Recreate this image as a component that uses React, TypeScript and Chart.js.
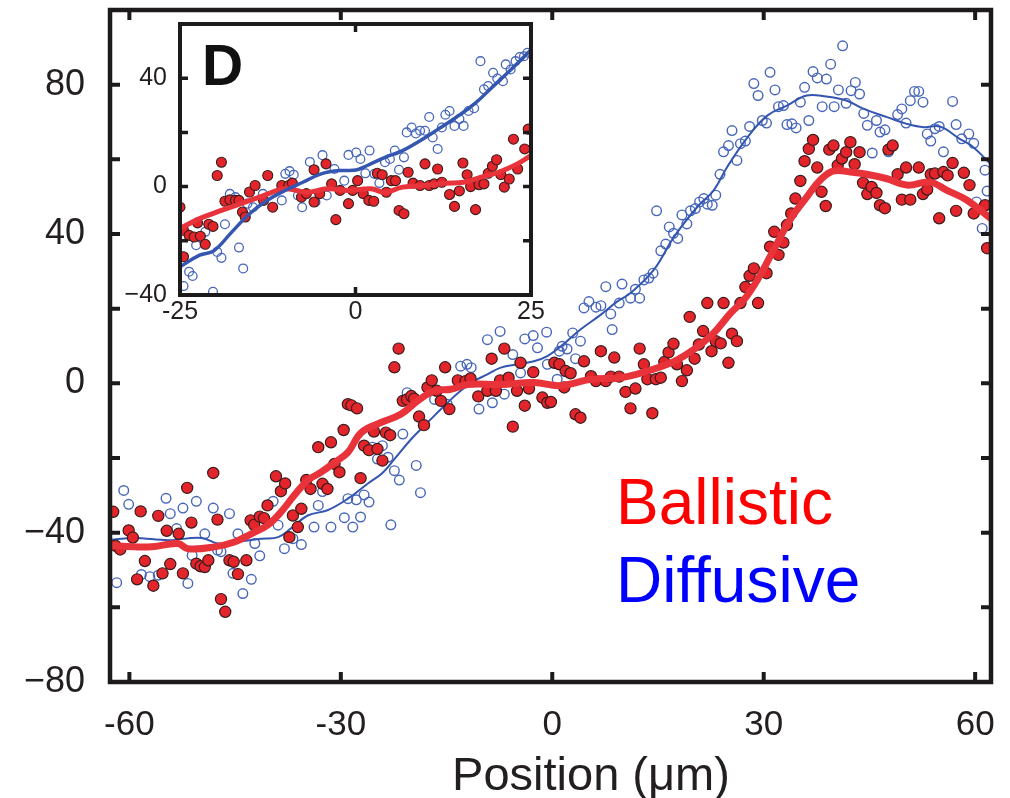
import React, { useEffect, useRef } from 'react';
import { Chart, registerables } from 'chart.js';

Chart.register(...registerables);

const FONT = "'Liberation Sans', Arial, Helvetica, sans-serif";

// ---------- main panel data ----------
const mainXTickLabels = [-60, -30, 0, 30, 60];
const mainYTickLabels = [-80, -40, 0, 40, 80];
const mainYTickMarks = [-60, -40, -20, 0, 20, 40, 60, 80];

const mainBallisticPoints: number[][] = [
  [-62.3, -34.4], [-62.0, -43.5], [-61.3, -44.5], [-60.1, -39.4], [-59.5, -41.3], [-58.4, -34.3], [-57.8, -47.6],
  [-58.9, -52.5], [-56.6, -54.2], [-55.9, -35.5], [-55.3, -50.9], [-54.7, -39.5], [-54.2, -48.4], [-53.0, -40.3],
  [-52.4, -50.9], [-51.8, -28.0], [-51.2, -37.3], [-50.5, -48.3], [-49.9, -49.0], [-49.3, -49.2], [-48.8, -47.4],
  [-48.1, -24.0], [-47.5, -36.5], [-47.0, -57.8], [-46.4, -61.2], [-45.8, -47.4], [-45.2, -47.8], [-44.6, -51.1],
  [-43.4, -47.4], [-42.8, -36.7], [-42.3, -37.9], [-41.5, -35.7], [-40.9, -36.1], [-40.4, -32.7], [-39.2, -24.9],
  [-38.5, -28.9], [-37.9, -26.8], [-37.3, -41.2], [-36.8, -35.4], [-36.1, -38.5], [-35.6, -33.6], [-34.9, -25.9],
  [-34.3, -28.3], [-33.2, -17.1], [-32.6, -26.9], [-31.9, -28.3], [-31.4, -15.8], [-30.9, -21.6], [-30.2, -23.8],
  [-29.6, -12.5], [-29.0, -5.6], [-28.5, -5.9], [-27.7, -6.7], [-27.2, -25.4], [-26.7, -16.7], [-26.0, -17.9],
  [-25.3, -12.9], [-24.8, -17.6], [-24.1, -20.7], [-23.6, -13.2], [-23.0, -13.9], [-22.4, 4.3], [-21.8, 9.3],
  [-21.2, -4.7], [-20.6, -4.3], [-20.0, -3.4], [-19.6, -4.1], [-18.9, -8.9], [-18.2, -11.2], [-17.7, -1.1],
  [-17.1, 0.8], [-16.4, -2.0], [-15.8, -4.7], [-15.2, 4.3], [-14.6, -6.9], [-13.4, 0.8], [-12.3, 0.6],
  [-11.6, 1.3], [-10.5, -3.5], [-9.2, -2.0], [-8.6, 6.6], [-8.0, -2.0], [-7.4, 0.8], [-6.8, 9.3], [-6.2, 1.5],
  [-5.6, -11.6], [-5.0, -2.0], [-4.5, 5.5], [-3.9, -6.0], [-3.3, -1.4], [-2.7, 3.0], [-1.4, -3.8], [-0.7, -5.2],
  [-0.2, -5.0], [0.3, 5.5], [1.0, 5.1], [1.9, 3.3], [2.6, 2.7], [1.7, -1.1], [3.3, -8.3], [4.0, -9.2],
  [4.5, 5.9], [5.5, 1.9], [6.2, 0.6], [6.9, 8.6], [7.6, 0.6], [8.3, 1.8], [8.8, 6.9], [9.5, 1.8], [10.4, -2.3],
  [11.1, -6.7], [11.8, -1.4], [12.4, 9.3], [13.0, 5.1], [13.5, 1.1], [14.2, -8.0], [14.7, 1.1], [15.4, 1.5],
  [15.9, 5.7], [16.5, 8.3], [17.2, 10.6], [17.7, 5.1], [18.4, 0.6], [19.1, 3.5], [19.5, 17.8], [20.2, 6.6],
  [20.8, 10.4], [21.4, 14.0], [22.0, 21.5], [22.6, 8.6], [23.2, 11.3], [23.9, 10.7], [24.3, 21.5], [25.0, 5.5],
  [25.5, 13.3], [26.2, 11.3], [26.7, 21.5], [27.4, 25.8], [28.0, 28.8], [28.6, 30.8], [29.2, 21.5], [30.4, 29.5],
  [30.9, 36.6], [31.5, 40.6], [32.1, 34.4], [32.8, 37.7], [33.3, 42.4], [33.9, 45.5], [34.5, 49.5], [35.2, 54.2],
  [35.8, 59.5], [36.4, 62.8], [37.0, 65.2], [37.6, 57.8], [38.2, 51.3], [38.8, 47.5], [39.3, 62.6], [39.9, 63.7],
  [40.5, 58.4], [41.1, 60.2], [41.7, 61.9], [42.3, 64.6], [42.9, 58.7], [43.6, 61.9], [44.1, 53.7], [44.7, 50.7],
  [45.3, 52.6], [46.0, 51.0], [46.5, 47.7], [47.2, 46.9], [47.7, 62.6], [48.3, 63.7], [49.0, 56.0], [49.6, 49.2],
  [50.2, 57.8], [50.8, 49.2], [52.0, 57.8], [52.6, 50.7], [53.2, 51.9], [53.7, 56.0], [54.3, 56.2], [54.9, 44.2],
  [55.5, 56.6], [56.1, 55.7], [56.8, 59.0], [57.3, 46.2], [58.4, 56.4], [59.2, 53.1], [59.8, 45.5], [61.4, 47.7],
  [61.7, 36.2],
];

const mainDiffusivePoints: number[][] = [
  [-61.8, -53.4], [-60.8, -28.7], [-60.1, -32.4], [-58.3, -51.2], [-57.1, -51.8], [-55.9, -51.4], [-54.8, -30.8],
  [-54.2, -34.9], [-53.3, -38.9], [-52.4, -33.4], [-51.7, -53.6], [-51.1, -46.1], [-50.5, -31.6], [-49.3, -40.3],
  [-48.1, -33.4], [-47.5, -44.7], [-47.0, -45.1], [-45.8, -34.9], [-45.3, -50.9], [-44.6, -40.3], [-43.9, -56.3],
  [-42.7, -52.5], [-42.2, -42.9], [-41.5, -46.2], [-39.6, -31.6], [-38.9, -38.0], [-38.0, -44.3], [-36.8, -41.6],
  [-35.6, -43.2], [-33.8, -38.5], [-33.2, -32.7], [-32.6, -29.0], [-31.4, -38.5], [-29.5, -36.0], [-29.0, -30.9],
  [-28.3, -38.5], [-27.8, -31.2], [-27.2, -35.8], [-26.7, -29.9], [-26.0, -31.8], [-25.5, -17.1], [-24.8, -20.3],
  [-24.1, -16.7], [-23.3, -19.8], [-22.9, -37.9], [-22.4, -23.4], [-21.7, -25.9], [-21.2, -13.6], [-20.6, -2.5],
  [-19.3, -22.0], [-18.7, -29.3], [-16.7, -4.3], [-14.9, -5.6], [-13.0, 4.6], [-12.1, 5.1], [-11.5, 4.2],
  [-10.4, -6.9], [-9.2, 11.7], [-8.5, -5.2], [-7.4, 13.9], [-6.8, -2.9], [-5.6, 7.7], [-4.5, 2.8], [-3.9, 11.9],
  [-2.7, 12.8], [-2.1, 9.5], [-0.8, 13.7], [-0.7, 5.1], [0.7, 1.1], [1.0, 8.6], [1.4, 9.9], [2.1, 9.2],
  [2.9, 13.5], [3.3, 6.6], [4.0, 11.3], [8.5, 14.4], [4.5, 20.2], [5.2, 21.9], [6.2, 20.4], [6.9, 20.8],
  [7.6, 25.9], [8.3, 18.6], [9.5, 21.5], [9.9, 26.6], [11.1, 22.8], [11.8, 25.2], [12.4, 22.8], [13.0, 27.7],
  [13.7, 28.2], [14.3, 29.5], [14.8, 46.2], [15.4, 35.5], [16.1, 37.3], [16.6, 41.9], [17.2, 40.2], [17.8, 38.8],
  [18.4, 45.1], [19.1, 42.7], [19.6, 46.2], [20.3, 46.8], [20.9, 48.6], [21.5, 49.5], [22.0, 48.0], [22.7, 47.7],
  [23.2, 50.4], [23.8, 56.0], [24.3, 62.0], [25.0, 63.7], [25.5, 67.7], [26.2, 59.7], [26.7, 64.2], [27.4, 64.9],
  [28.0, 68.8], [28.6, 80.3], [29.2, 77.1], [29.8, 70.4], [30.4, 69.7], [30.9, 83.3], [31.6, 78.6], [32.1, 74.1],
  [32.8, 74.4], [33.3, 69.3], [34.0, 69.5], [34.6, 68.4], [35.2, 75.3], [35.8, 79.3], [36.4, 70.4], [37.0, 83.5],
  [37.6, 81.8], [38.3, 74.1], [38.9, 81.5], [39.5, 85.5], [40.0, 74.1], [40.6, 78.6], [41.2, 90.4], [41.7, 75.0],
  [42.4, 78.4], [43.0, 80.6], [43.6, 77.5], [44.2, 72.3], [44.7, 69.1], [45.4, 61.7], [46.0, 70.4], [46.5, 67.3],
  [47.2, 67.9], [47.7, 62.0], [49.0, 72.0], [49.6, 73.5], [50.2, 69.7], [50.8, 75.7], [51.4, 78.2], [52.0, 78.2],
  [52.6, 75.3], [53.2, 66.8], [53.7, 64.9], [54.3, 68.2], [54.9, 68.8], [55.5, 62.0], [56.8, 75.5], [57.3, 69.3],
  [58.1, 65.5], [59.1, 66.8], [59.8, 64.3], [61.4, 57.1], [61.7, 51.5], [61.0, 41.5], [60.2, 48.6],
];

const mainBallisticFit: number[][] = [
  [-62.8, -43.4], [-59.3, -43.8], [-56.9, -43.8], [-53.1, -42.9], [-51.7, -44.3], [-47.9, -43.8], [-45.1, -42.5],
  [-42.7, -40.3], [-40.4, -38.0], [-38.5, -34.5], [-36.6, -30.0], [-34.7, -26.0], [-32.8, -23.8], [-30.9, -21.2],
  [-29.0, -18.5], [-27.1, -13.2], [-24.3, -10.5], [-21.5, -8.3], [-19.1, -4.7], [-16.7, -2.0], [-14.4, -1.6],
  [-12.0, -0.3], [-7.3, -0.3], [-2.6, 0.2], [1.2, -0.6], [5.5, 1.1], [9.7, 1.5], [13.5, 3.3], [17.3, 5.9],
  [20.1, 9.1], [22.9, 13.5], [25.3, 18.8], [27.2, 22.4], [29.1, 27.7], [31.4, 35.7], [33.7, 43.7], [36.1, 49.9],
  [38.0, 54.4], [39.9, 56.9], [42.3, 56.6], [44.6, 56.0], [47.5, 54.8], [50.3, 53.1], [53.6, 53.9], [56.0, 51.7],
  [58.8, 49.1], [62.3, 44.0],
];

const mainDiffusiveFit: number[][] = [
  [-62.8, -42.0], [-59.3, -41.4], [-54.5, -42.0], [-49.8, -41.4], [-47.4, -42.9], [-44.1, -42.3], [-41.3, -41.6],
  [-38.9, -41.2], [-37.1, -38.9], [-34.7, -35.4], [-31.9, -34.0], [-29.0, -30.9], [-26.2, -26.9], [-24.1, -24.0],
  [-22.4, -20.3], [-20.0, -14.9], [-17.7, -10.5], [-15.3, -6.0], [-13.0, -2.0], [-11.1, 0.6], [-9.2, 2.4],
  [-7.3, 4.2], [-4.9, 5.1], [-2.6, 5.9], [-0.7, 7.3], [1.2, 9.9], [4.0, 14.4], [6.9, 18.4], [9.2, 21.9],
  [11.1, 24.2], [14.4, 30.4], [17.3, 39.3], [20.6, 47.3], [22.9, 51.7], [24.8, 57.9], [27.7, 65.9], [30.5, 71.7],
  [33.3, 74.4], [36.1, 77.1], [38.9, 76.8], [41.8, 75.7], [44.2, 73.5], [47.5, 71.3], [50.3, 69.5], [52.7, 68.6],
  [55.0, 68.8], [57.8, 65.5], [59.7, 63.3], [62.3, 58.5],
];

// ---------- inset (panel D) data ----------
const insetXTickLabels = [-25, 0, 25];
const insetYTickLabels = [-40, 0, 40];
const insetYTickMarks = [-20, 0, 20, 40];

const insetBallisticPoints: number[][] = [
  [-25.0, -7.6], [-24.5, -16.1], [-24.5, -25.9], [-23.7, -18.0], [-23.0, -18.6], [-22.5, -13.4], [-22.1, -18.3],
  [-21.4, -21.3], [-20.9, -13.9], [-20.3, -14.7], [-19.7, 4.1], [-19.1, 9.0], [-18.6, -5.4], [-17.9, -4.9],
  [-17.1, -5.1], [-16.6, -5.1], [-16.1, -9.4], [-15.7, -11.2], [-15.1, -2.0], [-14.3, 0.4], [-13.1, -5.1],
  [-12.5, 4.1], [-11.8, -7.6], [-10.5, 0.4], [-9.5, 0.4], [-9.0, 1.3], [-7.7, -3.9], [-7.0, -2.6], [-5.9, 6.2],
  [-5.9, -5.7], [-5.1, -2.6], [-4.2, 8.4], [-3.4, 1.0], [-2.8, -12.2], [-2.2, -1.4], [-1.0, -6.3], [-0.4, -1.4],
  [0.3, 2.2], [1.1, -2.6], [1.9, -5.1], [2.6, -5.4], [3.1, 4.9], [3.8, 4.4], [4.4, -2.1], [5.1, 2.2], [5.7, 2.2],
  [6.2, -8.8], [6.9, -10.0], [7.5, 5.3], [8.2, 1.3], [9.2, 0.4], [9.9, 8.4], [10.5, 0.4], [11.2, 1.0], [11.7, 6.5],
  [12.3, 1.6], [13.4, -2.9], [14.1, -7.3], [14.8, -1.6], [15.3, 8.7], [15.9, 4.4], [16.4, 0.0], [17.1, -8.5],
  [17.6, 0.7], [18.3, 1.0], [18.9, 4.9], [19.5, 7.5], [20.1, 9.9], [20.7, 4.4], [21.2, -0.2], [21.9, 2.8],
  [22.5, 17.5], [23.1, 6.5], [24.1, 13.9], [24.6, 21.2],
];

const insetDiffusivePoints: number[][] = [
  [-24.5, -36.7], [-23.7, -31.4], [-23.2, -33.0], [-20.3, -38.8], [-22.7, -21.6], [-21.4, -16.7], [-19.7, -24.1],
  [-19.1, -26.3], [-18.6, -13.9], [-17.9, -2.7], [-17.1, -3.9], [-16.6, -22.5], [-16.0, -30.2], [-15.4, -6.3],
  [-14.6, -7.6], [-13.2, -2.7], [-10.5, -5.1], [-10.0, 4.7], [-9.4, 5.7], [-8.8, 4.4], [-8.2, -3.3], [-7.6, -7.6],
  [-6.5, 9.1], [-5.7, -5.7], [-4.7, 11.6], [-4.1, -3.3], [-3.0, 6.5], [-1.6, 2.2], [-1.0, 11.7], [0.1, 12.6],
  [0.7, 10.2], [1.4, 4.9], [2.0, 13.3], [2.7, 4.7], [3.4, 1.3], [4.2, 9.0], [4.9, 10.2], [5.6, 13.3], [6.2, 6.2],
  [6.9, 10.8], [7.3, 20.0], [8.0, 21.8], [8.6, 19.6], [9.2, 20.6], [9.9, 20.6], [10.5, 25.7], [11.0, 18.1],
  [11.7, 13.9], [12.3, 21.8], [12.8, 26.5], [13.4, 27.9], [14.1, 22.4], [14.8, 24.9], [15.4, 22.4], [16.1, 27.9],
  [16.9, 28.9], [17.8, 46.3], [18.3, 35.9], [18.9, 37.1], [19.6, 42.0], [20.2, 39.9], [21.0, 38.9], [21.4, 45.1],
  [22.1, 43.2], [22.8, 46.3], [23.4, 47.8], [24.0, 48.1], [24.5, 49.4],
];

const insetBallisticFit: number[][] = [
  [-25, -15.5], [-22.2, -11.8], [-19.1, -8.8], [-16.1, -6.1], [-13.1, -3.3], [-10.0, -0.8], [-7.0, -2.1],
  [-4.0, -0.8], [-0.9, -1.4], [2.2, -0.8], [4.2, -2.1], [6.7, -0.2], [9.8, 0.4], [12.8, 1.2], [15.4, 1.6],
  [17.9, 3.5], [20.4, 5.3], [23.0, 8.3], [25, 11.5],
];

const insetDiffusiveFit: number[][] = [
  [-25, -29.6], [-22.2, -25.3], [-20.2, -23.7], [-17.6, -16.7], [-15.1, -10.0], [-12.6, -5.1], [-10.0, -1.4],
  [-7.5, 1.6], [-4.9, 4.7], [-2.4, 5.9], [0.1, 6.1], [1.6, 7.7], [4.2, 10.8], [6.7, 13.3], [9.2, 16.9],
  [11.8, 21.2], [14.3, 25.5], [16.9, 30.4], [19.4, 36.5], [21.9, 42.6], [25, 50.5],
];

const toXY = (pts: number[][]) => pts.map(([x, y]) => ({ x, y }));
const fmtMinus = (v: number) => (v < 0 ? '\u2212' + Math.abs(v) : String(v));
const fmtHyphen = (v: number) => String(v);

const RED_FILL = '#e3252b';
const RED_EDGE = '#3a1c1c';
const RED_LINE = '#e8333b';
const BLUE_EDGE = '#4766bb';
const BLUE_LINE = '#3556b0';
const INK = '#1c1a1a';

function framePlugin(id: string, xMarks: number[], yMarks: number[], frameW: number, tickW: number, tickLen: number) {
  return {
    id,
    afterDatasetsDraw(chart: any) {
      const { ctx, chartArea: a, scales } = chart;
      const xs = scales.x;
      const ys = scales.y;
      ctx.save();
      ctx.strokeStyle = INK;
      ctx.lineWidth = tickW;
      ctx.beginPath();
      for (const v of xMarks) {
        const px = xs.getPixelForValue(v);
        ctx.moveTo(px, a.bottom);
        ctx.lineTo(px, a.bottom - tickLen);
        ctx.moveTo(px, a.top);
        ctx.lineTo(px, a.top + tickLen);
      }
      for (const v of yMarks) {
        const py = ys.getPixelForValue(v);
        ctx.moveTo(a.left, py);
        ctx.lineTo(a.left + tickLen, py);
        ctx.moveTo(a.right, py);
        ctx.lineTo(a.right - tickLen, py);
      }
      ctx.stroke();
      ctx.lineWidth = frameW;
      ctx.strokeRect(a.left, a.top, a.right - a.left, a.bottom - a.top);
      ctx.restore();
    },
  };
}

function fixedScale(size: number, horizontal: boolean) {
  return (scale: any) => {
    if (horizontal) scale.height = size;
    else scale.width = size;
    scale.paddingTop = 0;
    scale.paddingBottom = 0;
    scale.paddingLeft = 0;
    scale.paddingRight = 0;
  };
}

export default function App() {
  const mainRef = useRef<HTMLCanvasElement | null>(null);
  const insetRef = useRef<HTMLCanvasElement | null>(null);

  useEffect(() => {
    if (!mainRef.current || !insetRef.current) return;

    const textPlugin = {
      id: 'mainText',
      afterDraw(chart: any) {
        const ctx = chart.ctx;
        ctx.save();
        ctx.textBaseline = 'alphabetic';
        ctx.fillStyle = '#231f20';
        ctx.font = `47px ${FONT}`;
        ctx.textAlign = 'center';
        ctx.fillText('Position (\u03bcm)', 591, 790);
        ctx.textAlign = 'left';
        ctx.font = `64px ${FONT}`;
        ctx.fillStyle = '#ff0000';
        ctx.fillText('Ballistic', 616, 524);
        ctx.fillStyle = '#0000ff';
        ctx.fillText('Diffusive', 616, 602);
        ctx.restore();
      },
    };

    const main = new Chart(mainRef.current, {
      type: 'scatter',
      data: {
        datasets: [
          {
            label: 'Ballistic fit',
            data: toXY(mainBallisticFit),
            showLine: true,
            borderColor: RED_LINE,
            borderWidth: 7,
            pointRadius: 0,
            tension: 0.4,
            order: 1,
            clip: 0,
          },
          {
            label: 'Ballistic',
            data: toXY(mainBallisticPoints),
            pointRadius: 5.6,
            backgroundColor: RED_FILL,
            borderColor: RED_EDGE,
            borderWidth: 1.2,
            order: 2,
            clip: 0,
          },
          {
            label: 'Diffusive fit',
            data: toXY(mainDiffusiveFit),
            showLine: true,
            borderColor: BLUE_LINE,
            borderWidth: 2,
            pointRadius: 0,
            tension: 0.4,
            order: 3,
            clip: 0,
          },
          {
            label: 'Diffusive',
            data: toXY(mainDiffusivePoints),
            pointRadius: 4.8,
            backgroundColor: 'rgba(255,255,255,0)',
            borderColor: BLUE_EDGE,
            borderWidth: 1.4,
            order: 4,
            clip: 0,
          },
        ] as any,
      },
      options: {
        animation: false,
        responsive: false,
        events: [],
        layout: { padding: { top: 10, right: 19, left: 0, bottom: 0 } },
        plugins: { legend: { display: false }, tooltip: { enabled: false } },
        scales: {
          x: {
            type: 'linear',
            min: -62.75,
            max: 62.25,
            grid: { display: false, drawTicks: false },
            border: { display: false },
            afterBuildTicks: (s: any) => { s.ticks = mainXTickLabels.map((v) => ({ value: v })); },
            afterFit: fixedScale(116, true),
            ticks: {
              autoSkip: false,
              maxRotation: 0,
              padding: 22,
              color: '#231f20',
              font: { family: FONT, size: 35 },
              callback: (v: any) => fmtHyphen(Number(v)),
            },
          },
          y: {
            type: 'linear',
            min: -80,
            max: 100,
            grid: { display: false, drawTicks: false },
            border: { display: false },
            afterBuildTicks: (s: any) => { s.ticks = mainYTickLabels.map((v) => ({ value: v })); },
            afterFit: fixedScale(110, false),
            ticks: {
              autoSkip: false,
              padding: 25,
              color: '#231f20',
              font: { family: FONT, size: 36 },
              callback: (v: any) => fmtMinus(Number(v)),
            },
          },
        },
      } as any,
      plugins: [framePlugin('mainFrame', mainXTickLabels, mainYTickMarks, 4.5, 4, 10), textPlugin],
    });

    const insetBg = {
      id: 'insetBg',
      beforeDatasetsDraw(chart: any) {
        const { ctx, chartArea: a } = chart;
        ctx.save();
        ctx.fillStyle = '#ffffff';
        ctx.fillRect(a.left, a.top, a.right - a.left, a.bottom - a.top);
        ctx.restore();
      },
      afterDraw(chart: any) {
        const ctx = chart.ctx;
        ctx.save();
        ctx.fillStyle = '#111111';
        ctx.font = `bold 57px ${FONT}`;
        ctx.textAlign = 'left';
        ctx.textBaseline = 'alphabetic';
        ctx.fillText('D', 92, 71);
        ctx.restore();
      },
    };

    const inset = new Chart(insetRef.current, {
      type: 'scatter',
      data: {
        datasets: [
          {
            label: 'Diffusive fit',
            data: toXY(insetDiffusiveFit),
            showLine: true,
            borderColor: BLUE_LINE,
            borderWidth: 3.5,
            pointRadius: 0,
            tension: 0.4,
            order: 1,
            clip: 0,
          },
          {
            label: 'Ballistic fit',
            data: toXY(insetBallisticFit),
            showLine: true,
            borderColor: RED_LINE,
            borderWidth: 5,
            pointRadius: 0,
            tension: 0.4,
            order: 2,
            clip: 0,
          },
          {
            label: 'Ballistic',
            data: toXY(insetBallisticPoints),
            pointRadius: 5,
            backgroundColor: RED_FILL,
            borderColor: RED_EDGE,
            borderWidth: 1.1,
            order: 3,
            clip: 0,
          },
          {
            label: 'Diffusive',
            data: toXY(insetDiffusivePoints),
            pointRadius: 4.4,
            backgroundColor: 'rgba(255,255,255,0)',
            borderColor: BLUE_EDGE,
            borderWidth: 1.3,
            order: 4,
            clip: 0,
          },
        ] as any,
      },
      options: {
        animation: false,
        responsive: false,
        events: [],
        layout: { padding: { top: 10, right: 19, left: 0, bottom: 0 } },
        plugins: { legend: { display: false }, tooltip: { enabled: false } },
        scales: {
          x: {
            type: 'linear',
            min: -25,
            max: 25,
            grid: { display: false, drawTicks: false },
            border: { display: false },
            afterBuildTicks: (s: any) => { s.ticks = insetXTickLabels.map((v) => ({ value: v })); },
            afterFit: fixedScale(35, true),
            ticks: {
              autoSkip: false,
              maxRotation: 0,
              padding: 2,
              color: '#231f20',
              font: { family: FONT, size: 25 },
              callback: (v: any) => fmtHyphen(Number(v)),
            },
          },
          y: {
            type: 'linear',
            min: -40,
            max: 60,
            grid: { display: false, drawTicks: false },
            border: { display: false },
            afterBuildTicks: (s: any) => { s.ticks = insetYTickLabels.map((v) => ({ value: v })); },
            afterFit: fixedScale(70, false),
            ticks: {
              autoSkip: false,
              padding: 13,
              color: '#231f20',
              font: { family: FONT, size: 25 },
              callback: (v: any) => fmtMinus(Number(v)),
            },
          },
        },
      } as any,
      plugins: [insetBg, framePlugin('insetFrame', [0], insetYTickMarks, 4, 3.5, 8)],
    });

    return () => {
      main.destroy();
      inset.destroy();
    };
  }, []);

  return (
    <div style={{ position: 'absolute', left: 0, top: 0, width: 1010, height: 798, background: '#ffffff' }}>
      <canvas ref={mainRef} width={1010} height={798} style={{ position: 'absolute', left: 0, top: 0 }} />
      <canvas ref={insetRef} width={440} height={316} style={{ position: 'absolute', left: 110, top: 14 }} />
    </div>
  );
}
